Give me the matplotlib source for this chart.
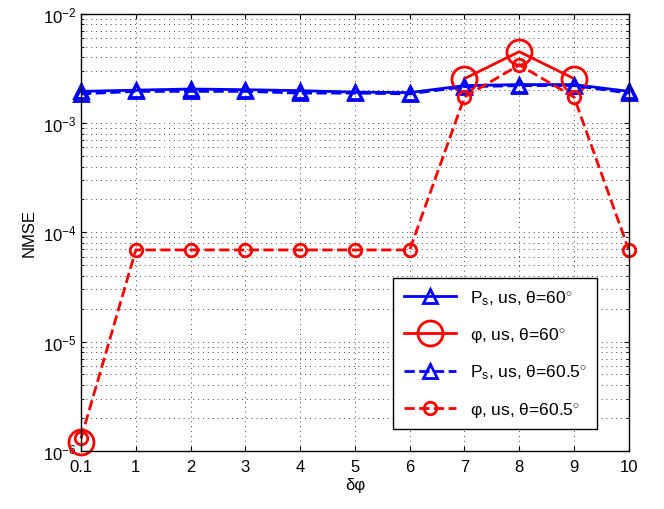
import numpy as np
import matplotlib
matplotlib.use('Agg')
import matplotlib.pyplot as plt
from matplotlib.ticker import LogLocator, NullFormatter

plt.rcParams['font.family'] = ['Liberation Sans', 'DejaVu Sans']
plt.rcParams['mathtext.fontset'] = 'custom'
plt.rcParams['mathtext.rm'] = 'Liberation Sans'
plt.rcParams['mathtext.it'] = 'Liberation Sans:italic'

# x categories (equally spaced)
x_labels = ['0.1', '1', '2', '3', '4', '5', '6', '7', '8', '9', '10']

# NMSE values
ps_60 = [1.95e-3, 2.0e-3, 2.05e-3, 2.02e-3, 1.98e-3, 1.92e-3, 1.9e-3, 2.2e-3, 2.25e-3, 2.25e-3, 1.95e-3]
phi_60 = [1.2e-6, np.nan, np.nan, np.nan, np.nan, np.nan, np.nan, 2.55e-3, 4.5e-3, 2.55e-3, np.nan]
ps_605 = [1.85e-3, 1.95e-3, 1.95e-3, 1.95e-3, 1.88e-3, 1.88e-3, 1.85e-3, 2.15e-3, 2.2e-3, 2.2e-3, 1.88e-3]
phi_605 = [1.3e-6, 6.9e-5, 6.9e-5, 6.9e-5, 6.9e-5, 6.9e-5, 6.9e-5, 1.73e-3, 3.4e-3, 1.73e-3, 6.9e-5]

x = np.arange(len(x_labels))

fig = plt.figure(figsize=(6.64, 5.10), dpi=100)
ax = fig.add_axes([0.122, 0.114, 0.825, 0.857])

ax.semilogy(x, ps_60, '-^', color='blue', lw=2, ms=10, mew=2, mfc='none', clip_on=False,
            label=r'P$_\mathrm{s}$, us, θ=60$^{\circ}$')
ax.semilogy(x, phi_60, '-o', color='red', lw=2, ms=18, mew=2, mfc='none', clip_on=False,
            label=r'φ, us, θ=60$^{\circ}$')
ax.semilogy(x, ps_605, '--^', color='blue', lw=2, ms=10, mew=2, mfc='none', clip_on=False,
            label=r'P$_\mathrm{s}$, us, θ=60.5$^{\circ}$')
ax.semilogy(x, phi_605, '--o', color='red', lw=2, ms=9, mew=2, mfc='none', clip_on=False,
            label=r'φ, us, θ=60.5$^{\circ}$')

ax.set_xlim(0, 10)
ax.set_ylim(1e-6, 1e-2)
ax.set_xticks(x)
ax.set_xticklabels(x_labels)
ax.yaxis.set_major_locator(LogLocator(base=10, numticks=10))
ax.yaxis.set_minor_locator(LogLocator(base=10, subs=np.arange(2, 10), numticks=10))
ax.yaxis.set_minor_formatter(NullFormatter())

ax.grid(True, which='major', ls=(0, (1, 4)), color='#444444', lw=0.7)
ax.grid(True, which='minor', axis='y', ls=(0, (1, 4)), color='#444444', lw=0.7)
ax.tick_params(which='both', direction='in', top=True, right=True, labelsize=12)
ax.tick_params(axis='x', pad=6)
for s in ax.spines.values():
    s.set_linewidth(1)

ax.set_xlabel('δφ', fontsize=12, labelpad=2)
ax.set_ylabel('NMSE', fontsize=12)

leg = ax.legend(loc='lower right', bbox_to_anchor=(0.942, 0.05), borderaxespad=0,
                fontsize=12.5, fancybox=False, edgecolor='black', framealpha=1,
                handlelength=3, labelspacing=1.05, borderpad=0.6)
leg.get_frame().set_linewidth(1)

fig.savefig('out.png', dpi=100)
